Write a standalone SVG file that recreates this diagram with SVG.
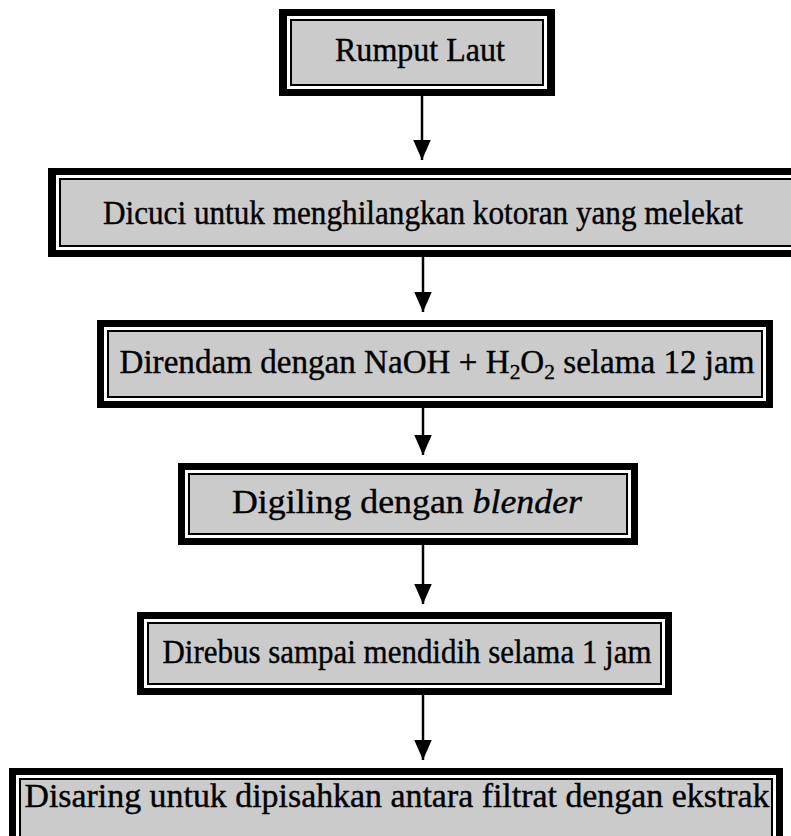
<svg xmlns="http://www.w3.org/2000/svg" width="791" height="836" viewBox="0 0 791 836">
<style>
.o{fill:#000}
.g{fill:#fff}
.i{fill:#cbcbcb;stroke:#000;stroke-width:2}
.t{font-family:"Liberation Serif","Times New Roman",serif;font-size:34px;fill:#000;text-anchor:middle;stroke:#000;stroke-width:0.4}
.c{stroke:#000;stroke-width:2.5;fill:none}
</style>
<defs>
<marker id="ah" viewBox="0 0 10 10" refX="10" refY="5" markerWidth="8" markerHeight="7" markerUnits="strokeWidth" orient="auto" preserveAspectRatio="none">
<path d="M0,0 L10,5 L0,10 Z" fill="#000"/>
</marker>
</defs>
<rect width="791" height="836" fill="#fff"/>
<g id="n1">
<rect class="o" x="279" y="9" width="276" height="87"/>
<rect class="g" x="287" y="16" width="260" height="73"/>
<rect class="i" x="291" y="20" width="252" height="65"/>
<text class="t" x="420" y="61" textLength="170" lengthAdjust="spacingAndGlyphs">Rumput Laut</text>
</g>
<g id="n2">
<rect class="o" x="48" y="168" width="743" height="89"/>
<rect class="g" x="56" y="175" width="735" height="75"/>
<rect class="i" x="60" y="179" width="740" height="67"/>
<text class="t" x="423" y="224" textLength="640" lengthAdjust="spacingAndGlyphs">Dicuci untuk menghilangkan kotoran yang melekat</text>
</g>
<g id="n3">
<rect class="o" x="97" y="320" width="676" height="88"/>
<rect class="g" x="104" y="327" width="662" height="74"/>
<rect class="i" x="108" y="331" width="654" height="66"/>
<text class="t" x="437" y="373" textLength="635" lengthAdjust="spacingAndGlyphs">Direndam dengan NaOH + H<tspan font-size="22" baseline-shift="-6">2</tspan>O<tspan font-size="22" baseline-shift="-6">2</tspan> selama 12 jam</text>
</g>
<g id="n4">
<rect class="o" x="178" y="463" width="460" height="82"/>
<rect class="g" x="185" y="470" width="446" height="68"/>
<rect class="i" x="189" y="474" width="438" height="60"/>
<text class="t" x="407" y="513" textLength="350" lengthAdjust="spacingAndGlyphs">Digiling dengan <tspan font-style="italic">blender</tspan></text>
</g>
<g id="n5">
<rect class="o" x="137" y="612" width="535" height="83"/>
<rect class="g" x="144" y="619" width="521" height="69"/>
<rect class="i" x="148" y="623" width="513" height="61"/>
<text class="t" x="407" y="663" textLength="489" lengthAdjust="spacingAndGlyphs">Direbus sampai mendidih selama 1 jam</text>
</g>
<g id="n6">
<rect class="o" x="9" y="768" width="774" height="80"/>
<rect class="g" x="16" y="775" width="760" height="70"/>
<rect class="i" x="20" y="779" width="752" height="70"/>
<text class="t" x="397" y="807" textLength="745" lengthAdjust="spacingAndGlyphs">Disaring untuk dipisahkan antara filtrat dengan ekstrak</text>
</g>
<g id="connectors">
<line class="c" x1="422" y1="96" x2="422" y2="160" marker-end="url(#ah)"/>
<line class="c" x1="423" y1="257" x2="423" y2="312" marker-end="url(#ah)"/>
<line class="c" x1="423" y1="408" x2="423" y2="455" marker-end="url(#ah)"/>
<line class="c" x1="423" y1="545" x2="423" y2="604" marker-end="url(#ah)"/>
<line class="c" x1="423" y1="695" x2="423" y2="760" marker-end="url(#ah)"/>
</g>
</svg>
